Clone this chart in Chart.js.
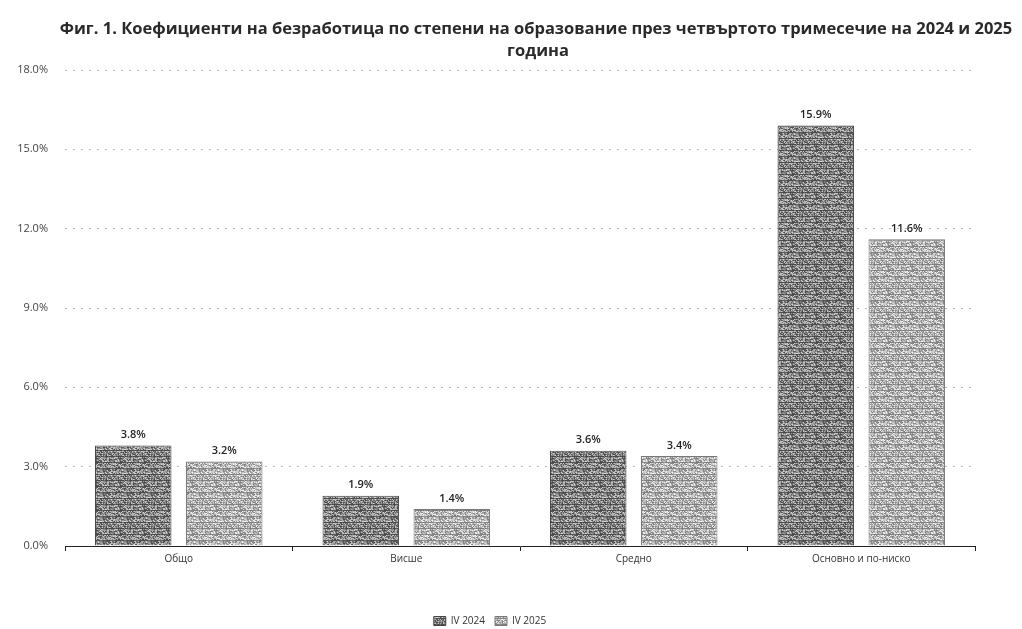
<!DOCTYPE html>
<html>
<head>
<meta charset="utf-8">
<script src="https://cdn.jsdelivr.net/npm/chart.js@4/dist/chart.umd.min.js"></script>
<style>
  html, body { margin: 0; padding: 0; background: #fff; }
  #wrap { width: 1022px; height: 629px; }
</style>
</head>
<body>
<div id="wrap"><canvas id="chart"></canvas></div>
<script>
// categories and values (unemployment rate, %)
var categories = ['Общо', 'Висше', 'Средно', 'Основно и по-ниско'];
var values2024 = [3.8, 1.9, 3.6, 15.9];
var values2025 = [3.2, 1.4, 3.4, 11.6];
var seriesNames = ['IV 2024', 'IV 2025'];
var yTicks = [0, 3, 6, 9, 12, 15, 18];
var titleLines = ['Фиг. 1. Коефициенти на безработица по степени на образование през четвъртото тримесечие на 2024 и 2025', 'година'];

// grainy gray texture like the scanned original (hash based, fixed)
function grain(base, spread){
  var c = document.createElement('canvas');
  c.width = 24; c.height = 24;
  var g = c.getContext('2d');
  var img = g.createImageData(24, 24);
  for (var y = 0; y < 24; y++){
    for (var x = 0; x < 24; x++){
      var h = Math.sin(x * 12.9898 + y * 78.233) * 43758.5453;
      h = h - Math.floor(h);
      var v = Math.round(base + (h - 0.5) * spread);
      if (y % 6 == 0 && h > 0.4) v = Math.round(base - spread * 0.45); // streaks
      v = Math.max(0, Math.min(255, v));
      var i = (y * 24 + x) * 4;
      img.data[i] = v; img.data[i + 1] = v; img.data[i + 2] = v; img.data[i + 3] = 255;
    }
  }
  g.putImageData(img, 0, 0);
  return g.createPattern(c, 'repeat');
}
var darkFill = grain(140, 150);
var lightFill = grain(185, 130);

// value labels above the bars
var barLabels = {
  id: 'barLabels',
  afterDatasetsDraw: function(chart){
    var ctx = chart.ctx;
    ctx.save();
    ctx.font = '600 11px "Open Sans"';
    ctx.fillStyle = '#222';
    ctx.textAlign = 'center';
    ctx.textBaseline = 'bottom';
    chart.data.datasets.forEach(function(ds, di){
      chart.getDatasetMeta(di).data.forEach(function(bar, i){
        ctx.fillText(ds.data[i].toFixed(1) + '%', bar.x, bar.y - 5);
      });
    });
    ctx.restore();
  }
};

// title sits a bit right of the canvas centre in the original
var chartTitle = {
  id: 'chartTitle',
  afterDraw: function(chart){
    var ctx = chart.ctx;
    ctx.save();
    ctx.font = 'bold 16.5px "Open Sans"';
    ctx.fillStyle = '#2a2a2a';
    ctx.textAlign = 'center';
    ctx.textBaseline = 'middle';
    ctx.fillText(titleLines[0], 536, 29);
    ctx.fillText(titleLines[1], 538, 51);
    ctx.restore();
  }
};

new Chart(document.getElementById('chart'), {
  type: 'bar',
  data: {
    labels: categories,
    datasets: [{
      label: seriesNames[0],
      data: values2024,
      backgroundColor: darkFill,
      borderColor: '#444',
      borderWidth: 1
    }, {
      label: seriesNames[1],
      data: values2025,
      backgroundColor: lightFill,
      borderColor: '#777',
      borderWidth: 1
    }]
  },
  options: {
    responsive: true,
    maintainAspectRatio: false,
    animation: false,
    layout: { padding: { left: 5, right: 47, top: 70, bottom: -7 } },
    datasets: { bar: { categoryPercentage: 0.8, barPercentage: 0.84 } },
    plugins: {
      title: { display: false },
      legend: {
        position: 'bottom',
        labels: {
          font: { family: '"Open Sans"', size: 10 },
          color: '#333',
          boxWidth: 12,
          boxHeight: 9,
          padding: 10
        }
      },
      tooltip: { enabled: false }
    },
    scales: {
      x: {
        grid: { display: true, drawOnChartArea: false, color: '#222', tickLength: 5, offset: true },
        border: { display: true, color: '#222', width: 1 },
        ticks: { font: { family: '"Open Sans"', size: 10 }, color: '#333', padding: 2 },
        afterFit: function(scale){ scale.height = 60; }
      },
      y: {
        min: 0,
        max: 18,
        afterBuildTicks: function(scale){ scale.ticks = yTicks.map(function(v){ return { value: v }; }); },
        grid: { color: '#bbb', lineWidth: 1, drawTicks: false },
        border: { display: false, dash: [2, 6] },
        ticks: {
          font: { family: '"Open Sans"', size: 11 },
          color: '#444',
          padding: 17,
          callback: function(v){ return v.toFixed(1) + '%'; }
        },
        afterFit: function(scale){ scale.width = 60; }
      }
    }
  },
  plugins: [barLabels, chartTitle]
});
</script>
</body>
</html>
